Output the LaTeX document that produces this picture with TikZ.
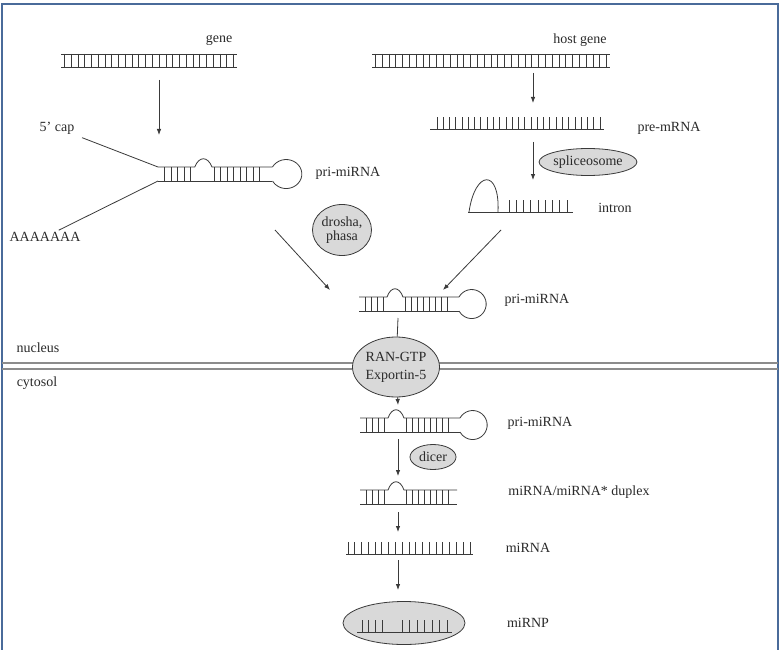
\documentclass[tikz,border=0pt]{standalone}
\usepackage{fontspec}
\setmainfont{Liberation Serif}
\usetikzlibrary{arrows.meta,shapes.geometric}
\definecolor{linegray}{HTML}{3A3A3A}
\definecolor{textgray}{HTML}{2A2A2A}
\definecolor{blobgray}{HTML}{D9D9D9}
\definecolor{framblue}{HTML}{4A6B9A}
\tikzstyle{blob}=[ellipse, draw=linegray, fill=blobgray, line width=0.8pt, inner sep=0pt, align=center, text=textgray, font=\fontsize{14}{16}\selectfont]
\tikzstyle{lbl}=[inner sep=2pt, text=textgray, font=\fontsize{14}{16}\selectfont]
\tikzstyle{strand}=[draw=linegray, line width=0.8pt]
\tikzstyle{membrane}=[draw=black!45, line width=1.8pt]
\newcommand{\lbl}{\node[lbl]}
\newcommand{\blob}{\node[blob]}
% double strand: x0, x1, y top, y bottom, rungs
\newcommand{\ladder}[5]{%
  \draw[strand] (#1,#3) -- (#2,#3) (#1,#4) -- (#2,#4);
  \foreach \k in {1,...,#5}
    \draw[strand] ({#1+(#2-#1)*(\k-0.5)/#5},#3) -- ({#1+(#2-#1)*(\k-0.5)/#5},#4);}
% single strand: x0, x1, y base, first tooth, last tooth, teeth
\newcommand{\comb}[6]{%
  \draw[strand] (#1,#3) -- (#2,#3);
  \foreach \k in {1,...,#6}
    \draw[strand] ({#4+(#5-#4)*(\k-1)/(#6-1)},#3) -- ++(0,-12);}
% stem with bulge: x, y, rungs before bulge, length
\newcommand{\stem}[4]{%
  \pgfmathsetmacro\bA{6*#3+4}
  \draw[strand] (#1,#2) -- ++(\bA,0) .. controls +(4,-11) and +(-4,-11) .. ++(16,0) -- (#1+#4,#2);
  \draw[strand] (#1,#2+14) -- (#1+#4,#2+14);
  \foreach \k in {1,...,#3} \draw[strand] (#1+6*\k,#2) -- ++(0,14);
  \foreach \k in {0,...,7} \draw[strand] (#1+\bA+18+6*\k,#2) -- ++(0,14);}
% hairpin: x, y, rungs before bulge
\newcommand{\hairpin}[3]{%
  \stem{#1}{#2}{#3}{6*#3+76}
  \draw[strand] (#1+6*#3+76,#2) arc[start angle=-151, end angle=151, radius=14.5];}

\begin{document}
\begin{tikzpicture}[x=1pt, y=-1pt
  ,>={Latex[length=6pt,width=4.5pt]}
  ,every edge/.style={draw=linegray, line width=0.8pt}
]
\useasboundingbox[fill=white] (0,0) rectangle (784,650);
\draw[framblue, line width=2.5pt] (2,4) rectangle (778,670);

% nucleus
\ladder{61}{237}{54}{67}{26}
\ladder{372}{610}{54}{67}{35}
\comb{430}{604}{129}{437}{600}{27}
\draw[strand] (468,212) -- (573,212);
\draw[strand] (469,212) .. controls (475,170) and (500,168) .. (498,212);
\comb{468}{573}{212}{509}{567}{9}
\begin{scope}[shift={(158,167)}, xscale=1.08]
\hairpin{0}{0}{5}
\end{scope}
\hairpin{359}{297}{4}

\lbl (gene) at (219,40) {gene};
\lbl (hostgene) at (580,40) {host gene};
\lbl (premrna) at (669,128) {pre-mRNA};
\blob[minimum width=97, minimum height=27] (splice) at (588,162) {spliceosome};
\lbl (intron) at (615,208) {intron};
\lbl (cap) at (57,128) {5' cap};
\lbl (polya) at (45,237) {AAAAAAA};
\lbl (prilbla) at (348,173) {pri-miRNA};
\blob[minimum width=59, minimum height=51] (drosha) at (342,230) {drosha,\\[-2pt]phasa};
\lbl (prilblb) at (537,300) {pri-miRNA};
\lbl (nucleus) at (38,348) {nucleus};
\lbl (cytosol) at (37,383) {cytosol};

\coordinate (capend) at (158,167);
\coordinate (polyend) at (158,181);
\coordinate (geneS) at (159,80);
\coordinate (pria) at (159,135);
\coordinate (hostS) at (533,73);
\coordinate (preN) at (533,103);
\coordinate (preS) at (533,142);
\coordinate (intronN) at (533,180);
\coordinate (droshaS) at (275,230);
\coordinate (intronS) at (501,230);
\coordinate (pribW) at (330,290);
\coordinate (pribE) at (443,290);
\coordinate (pribS) at (398,318);

% membrane and export
\draw[membrane] (2,363) -- (778,363) (2,369) -- (778,369);
\blob[minimum width=87, minimum height=60] (ran) at (396,367) {RAN-GTP\\[2pt]Exportin-5};

% cytosol
\hairpin{360}{418}{4}
\stem{360}{490}{4}{97}
\comb{346}{473}{554}{348}{470}{19}
\blob[minimum width=122, minimum height=43] (mirnp) at (404,623) {};
\draw[strand] (357,632) -- (452,632);
\foreach \x in {362,368.7,375.3,382,402,409.5,417,424.5,432,439.5,447}
  \draw[strand] (\x,632) -- ++(0,-12);

\blob[minimum width=46, minimum height=25] (dicer) at (433,457) {dicer};
\lbl (prilblc) at (540,423) {pri-miRNA};
\lbl (duplex) at (579,492) {miRNA/miRNA* duplex};
\lbl (mirna) at (528,548) {miRNA};
\lbl (mirnplbl) at (528,623) {miRNP};

\coordinate (pricN) at (398,405);
\coordinate (pricS) at (398,439);
\coordinate (duplexN) at (398,476);
\coordinate (duplexS) at (398,512);
\coordinate (mirnaN) at (398,532);
\coordinate (mirnaS) at (398,560);
\coordinate (mirnpN) at (398,590);

\path
(cap) edge[shorten <=6pt] (capend)
(polya) edge (polyend)
(geneS) edge[->] (pria)
(hostS) edge[->] (preN)
(preS) edge[->] (intronN)
(droshaS) edge[->] (pribW)
(intronS) edge[->] (pribE)
(pribS) edge (ran)
(ran) edge[->] (pricN)
(pricS) edge[->] (duplexN)
(duplexS) edge[->] (mirnaN)
(mirnaS) edge[->] (mirnpN)
;
\end{tikzpicture}
\end{document}
